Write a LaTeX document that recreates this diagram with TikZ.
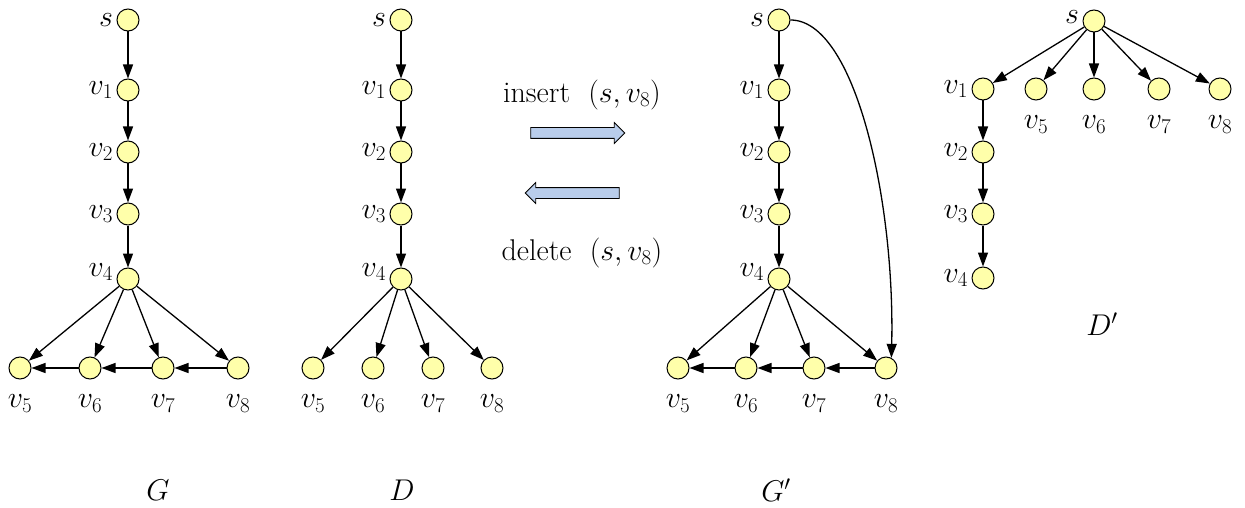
\RequirePackage{fix-cm}
\documentclass[tikz,border=0pt]{standalone}
\usepackage{amsmath,amssymb}
\usetikzlibrary{arrows.meta,shapes.arrows}
\definecolor{vfill}{RGB}{255,255,170}
\definecolor{opfill}{RGB}{185,205,235}

\begin{document}
\begin{tikzpicture}[x=1pt,y=-1pt,font=\fontsize{30}{36}\selectfont,
  vtx/.style={circle,draw,fill=vfill,minimum size=22pt,inner sep=0pt,line width=1pt},
  ll/.style={label={[label distance=0pt]left:$#1$}},
  ul/.style={label={[label distance=0pt,yshift=7pt]left:$#1$}},
  bl/.style={label={[label distance=12pt]below:$#1$}},
  edge/.style={-{Triangle[length=14pt,width=10pt]},line width=1.3pt},
  op/.style={single arrow,draw,fill=opfill,minimum height=94pt,
    single arrow head extend=5pt,single arrow head indent=0pt,inner sep=5pt,line width=0.8pt}]
  \useasboundingbox (0,0) rectangle (1245,508);

  % G
  \node[vtx,ll=s]   (gs) at (128,20)  {};
  \node[vtx,ll=v_1] (g1) at (128,90)  {};
  \node[vtx,ll=v_2] (g2) at (128,152) {};
  \node[vtx,ll=v_3] (g3) at (128,214) {};
  \node[vtx,ul=v_4] (g4) at (128,279) {};
  \node[vtx,bl=v_5] (g5) at (20,368)  {};
  \node[vtx,bl=v_6] (g6) at (90,368)  {};
  \node[vtx,bl=v_7] (g7) at (163,368) {};
  \node[vtx,bl=v_8] (g8) at (238,368) {};
  \foreach \a/\b in {gs/g1,g1/g2,g2/g3,g3/g4,g4/g5,g4/g6,g4/g7,g4/g8,g8/g7,g7/g6,g6/g5}
    \draw[edge] (\a) -- (\b);
  \node (gname) at (158,490) {$G$};

  % D
  \node[vtx,ll=s]   (ds) at (401,20)  {};
  \node[vtx,ll=v_1] (d1) at (401,90)  {};
  \node[vtx,ll=v_2] (d2) at (401,152) {};
  \node[vtx,ll=v_3] (d3) at (401,214) {};
  \node[vtx,ul=v_4] (d4) at (401,279) {};
  \node[vtx,bl=v_5] (d5) at (313,368) {};
  \node[vtx,bl=v_6] (d6) at (373,368) {};
  \node[vtx,bl=v_7] (d7) at (433,368) {};
  \node[vtx,bl=v_8] (d8) at (492,368) {};
  \foreach \a/\b in {ds/d1,d1/d2,d2/d3,d3/d4,d4/d5,d4/d6,d4/d7,d4/d8}
    \draw[edge] (\a) -- (\b);
  \node (dname) at (402,490) {$D$};

  % insert / delete
  \node (ins) at (582,95) {insert\ \ $(s,v_8)$};
  \node[op] (insop) at (575,133) {};
  \node[op,shape border rotate=180] (delop) at (575,193) {};
  \node (del) at (582,253) {delete\ \ $(s,v_8)$};

  % G'
  \node[vtx,ll=s]   (hs) at (779,20)  {};
  \node[vtx,ll=v_1] (h1) at (779,90)  {};
  \node[vtx,ll=v_2] (h2) at (779,152) {};
  \node[vtx,ll=v_3] (h3) at (779,214) {};
  \node[vtx,ul=v_4] (h4) at (779,279) {};
  \node[vtx,bl=v_5] (h5) at (678,368) {};
  \node[vtx,bl=v_6] (h6) at (746,368) {};
  \node[vtx,bl=v_7] (h7) at (814,368) {};
  \node[vtx,bl=v_8] (h8) at (886,368) {};
  \foreach \a/\b in {hs/h1,h1/h2,h2/h3,h3/h4,h4/h5,h4/h6,h4/h7,h4/h8,h8/h7,h7/h6,h6/h5}
    \draw[edge] (\a) -- (\b);
  \draw[edge] (hs.east) .. controls (855,20) and (895,200) .. (h8.62);
  \node (hname) at (776,490) {$G'$};

  % D'
  \node[vtx,label={[label distance=0pt,yshift=4pt]left:$s$}] (es) at (1094,21) {};
  \node[vtx,ll=v_1] (e1) at (983,89)   {};
  \node[vtx,ll=v_2] (e2) at (983,152)  {};
  \node[vtx,ll=v_3] (e3) at (983,214)  {};
  \node[vtx,ll=v_4] (e4) at (983,278)  {};
  \node[vtx,bl=v_5] (e5) at (1036,89)  {};
  \node[vtx,bl=v_6] (e6) at (1094,89)  {};
  \node[vtx,bl=v_7] (e7) at (1159,89)  {};
  \node[vtx,bl=v_8] (e8) at (1220,89)  {};
  \foreach \a/\b in {es/e1,es/e5,es/e6,es/e7,es/e8,e1/e2,e2/e3,e3/e4}
    \draw[edge] (\a) -- (\b);
  \node (ename) at (1102,324) {$D'$};
\end{tikzpicture}
\end{document}
